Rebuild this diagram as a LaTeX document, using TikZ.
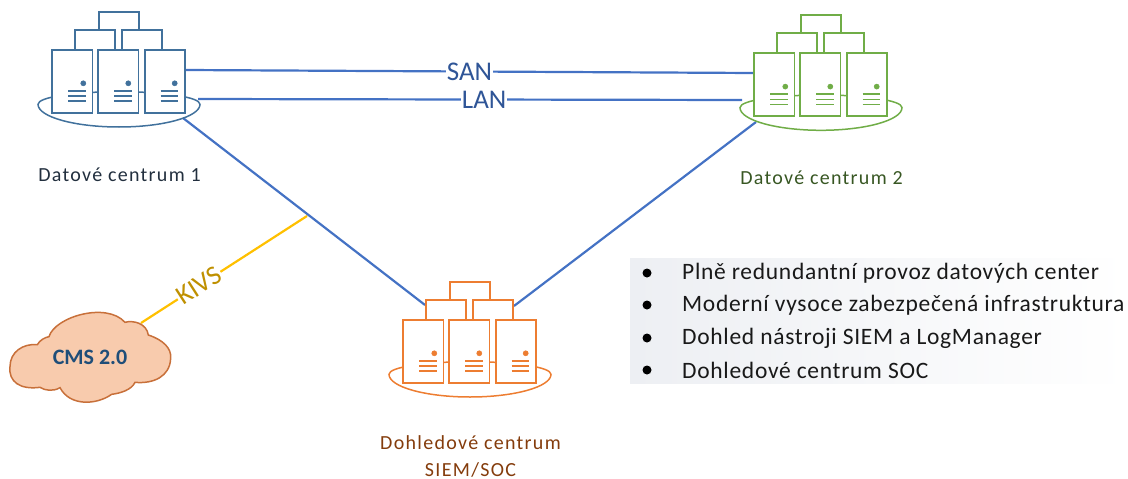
\documentclass[tikz,border=0pt]{standalone}
\usepackage{fontspec}
\setmainfont{Carlito}
\newfontfamily\labelfont[LetterSpace=6.5]{Carlito}
\newfontfamily\listfont[LetterSpace=3]{Carlito}
\definecolor{iconblue}{HTML}{41719C}
\definecolor{icongreen}{HTML}{70AD47}
\definecolor{iconorange}{HTML}{ED7D31}
\definecolor{linkblue}{HTML}{4472C4}
\definecolor{linkgold}{HTML}{FFC000}
\definecolor{kivsgold}{HTML}{BF9000}
\definecolor{labelblue}{HTML}{2F5597}
\definecolor{dcone}{HTML}{222F3E}
\definecolor{dctwo}{HTML}{385723}
\definecolor{dcsoc}{HTML}{843C0C}
\definecolor{cloudfill}{HTML}{F8CBAD}
\definecolor{cloudline}{HTML}{C8703A}
\definecolor{cloudtext}{HTML}{1F4E79}
\definecolor{panelgrey}{HTML}{EDEFF3}
\tikzset{
  x=1pt,y=-1pt,
  link/.style={draw=linkblue,line width=2.2pt},
  kivslink/.style={draw=linkgold,line width=2.2pt},
  linklabel/.style={fill=white,inner sep=1pt,font=\fontsize{27}{27}\selectfont,text=labelblue},
  dclabel/.style={inner sep=0pt,align=center,font=\labelfont\fontsize{20}{27}\selectfont},
  bullettext/.style={anchor=west,inner sep=0pt,font=\listfont\fontsize{23.5}{23.5}\selectfont,text=black!90},
  bulletdot/.style={circle,fill=black,inner sep=0pt,minimum size=9pt},
  box/.style={fill=white,line width=1.8pt},
  pics/racks/.style={code={
    \tikzset{every path/.append style={draw=#1}}
    \path[line width=1.5pt] (38,104.3) .. controls (38,97) and (75,91.7) .. (119,91.7)
      .. controls (163,91.7) and (200,97) .. (200,104.3)
      .. controls (200,117) and (163,127) .. (119,127)
      .. controls (75,127) and (38,117) .. (38,104.3) -- cycle;
    \path[box] (98.7,50) -- (98.7,12) -- (139,12) -- (139,50);
    \path[box] (74.7,50) -- (74.7,30) -- (115.3,30) -- (115.3,50);
    \path[box] (122,50) -- (122,30) -- (162.3,30) -- (162.3,50);
    \foreach \sx/\dotx in {52.3/31,98.3/30,144.7/30}{
      \path[box] (\sx,50) rectangle ++(40.2,62.7);
      \fill[#1] (\sx+\dotx,83.3) circle (2.6);
      \foreach \ly in {90.7,96,101}
        \path[line width=1.6pt] (\sx+16,\ly) -- ++(17.3,0);
    }
  }}
}
\begin{document}
\begin{tikzpicture}
\useasboundingbox (0,0) rectangle (1128,479);
% panel
\node[anchor=north west,minimum width=498pt,minimum height=125pt,inner sep=0pt,
      left color=panelgrey,right color=white,draw=none] (panel) at (630,258) {};

% locations of the three groups
\coordinate (o1) at (0,0);
\coordinate (o2) at (702,3.3);
\coordinate (o3) at (351,270);

% connector ends
\coordinate (san1) at (185,70);
\coordinate (lan1) at (198,99);
\coordinate (low1) at (183,118);
\coordinate (san2) at (754,73);
\coordinate (lan2) at (742,100);
\coordinate (low2) at (756,122);
\coordinate (soc1) at (425,305);
\coordinate (soc2) at (514,306);
\coordinate (junction) at (307,216);
\coordinate (cloudport) at (141,323);

\draw[link] (san1) -- (san2) node[linklabel,pos=.50] (sanlabel) {SAN};
\draw[link] (lan1) -- (lan2) node[linklabel,pos=.526] (lanlabel) {LAN};
\draw[link] (low1) -- (soc1);
\draw[link] (low2) -- (soc2);
\draw[kivslink] (junction) -- (cloudport)
  node[pos=.65,sloped,inner sep=1pt,fill=white,text=kivsgold,font=\fontsize{27}{27}\selectfont] (kivslabel) {KIVS};

\pic (dc1) at (o1) {racks=iconblue};
\pic (dc2) at (o2) {racks=icongreen};
\pic (dc3) at (o3) {racks=iconorange};

% cloud
\begin{scope}[shift={(0,260)},x=0.3333pt,y=-0.3333pt]
\draw[fill=cloudfill,draw=cloudline,line width=1.5pt]
 (147,230) .. controls (165,170) and (320,125) .. (375,187)
 .. controls (400,180) and (440,190) .. (445,225)
 .. controls (490,240) and (515,265) .. (512,295)
 .. controls (510,350) and (460,372) .. (405,367)
 .. controls (395,390) and (360,400) .. (335,403)
 .. controls (290,435) and (210,440) .. (180,383)
 .. controls (160,395) and (135,392) .. (120,382)
 .. controls (60,390) and (25,365) .. (30,320)
 .. controls (30,275) and (70,250) .. (112,254)
 .. controls (120,240) and (135,232) .. (147,230) -- cycle;
\end{scope}
\node[inner sep=0pt,text=cloudtext,font=\fontsize{22}{22}\selectfont\bfseries] (cms) at (90,357) {CMS 2.0};

% labels
\node[dclabel,text=dcone] (t1) at (119.5,174.5) {Datové centrum 1};
\node[dclabel,text=dctwo] (t2) at (821.5,177.5) {Datové centrum 2};
\node[dclabel,text=dcsoc] (t3) at (470.5,456) {Dohledové centrum\\SIEM/SOC};

% bullets
\foreach \nm/\yy/\tx in {a/273/{Plně redundantní provoz datových center},
                         b/305/{Moderní vysoce zabezpečená infrastruktura},
                         c/338/{Dohled nástroji SIEM a LogManager},
                         d/370/{Dohledové centrum SOC}}{
  \node[bulletdot] (dot\nm) at (647,\yy) {};
  \node[bullettext] (line\nm) at (682,\yy) {\tx};
}
\end{tikzpicture}
\end{document}
